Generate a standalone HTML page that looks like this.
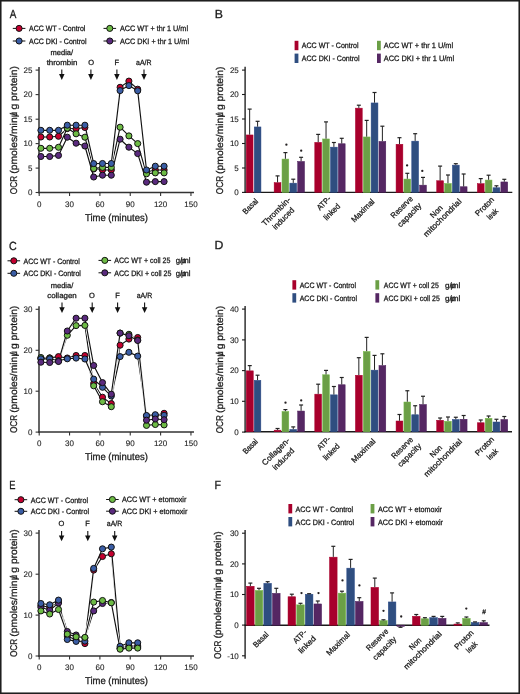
<!DOCTYPE html>
<html><head><meta charset="utf-8"><style>
html,body{margin:0;padding:0;background:#fff;width:520px;height:694px;overflow:hidden}
svg{display:block;will-change:transform;text-rendering:geometricPrecision}
text{stroke:#1a1a1a;stroke-width:0.28px}
text.nl{stroke-width:0.3px}
text.tk{stroke-width:0.1px}
</style></head><body>
<svg width="520" height="694" viewBox="0 0 520 694" font-family='"Liberation Sans", sans-serif' fill="#1a1a1a">
<rect x="0" y="0" width="520" height="694" fill="#fff"/>
<text id="ltA" class="nl" x="0" y="0" font-size="11.80" transform="translate(9.70,17.60) scale(0.838,1)">A</text>
<line x1="12.80" y1="28.40" x2="25.40" y2="28.40" stroke="#111" stroke-width="1.0"/>
<circle cx="19.10" cy="28.40" r="3.05" fill="#c4002f" stroke="#111" stroke-width="1.0"/>
<text x="29.00" y="31.20" font-size="7.8" textLength="56.40" lengthAdjust="spacingAndGlyphs">ACC WT - Control</text>
<line x1="12.80" y1="41.00" x2="25.40" y2="41.00" stroke="#111" stroke-width="1.0"/>
<circle cx="19.10" cy="41.00" r="3.05" fill="#3a5da5" stroke="#111" stroke-width="1.0"/>
<text x="29.00" y="43.80" font-size="7.8" textLength="57.50" lengthAdjust="spacingAndGlyphs">ACC DKI - Control</text>
<line x1="103.50" y1="28.40" x2="116.10" y2="28.40" stroke="#111" stroke-width="1.0"/>
<circle cx="109.80" cy="28.40" r="3.05" fill="#6dbb45" stroke="#111" stroke-width="1.0"/>
<text x="120.00" y="31.20" font-size="7.8" textLength="68.00" lengthAdjust="spacingAndGlyphs">ACC WT + thr 1 U/ml</text>
<line x1="103.50" y1="41.00" x2="116.10" y2="41.00" stroke="#111" stroke-width="1.0"/>
<circle cx="109.80" cy="41.00" r="3.05" fill="#5a2a7e" stroke="#111" stroke-width="1.0"/>
<text x="120.00" y="43.80" font-size="7.8" textLength="69.00" lengthAdjust="spacingAndGlyphs">ACC DKI + thr 1 U/ml</text>
<text x="61.80" y="55.00" font-size="7.5" text-anchor="middle" textLength="22.60" lengthAdjust="spacingAndGlyphs">media/</text>
<text x="62.00" y="64.50" font-size="7.5" text-anchor="middle" textLength="30.70" lengthAdjust="spacingAndGlyphs">thrombin</text>
<text x="91.20" y="64.50" font-size="7.5" text-anchor="middle">O</text>
<text x="116.80" y="64.50" font-size="7.5" text-anchor="middle">F</text>
<text x="143.80" y="64.50" font-size="7.5" text-anchor="middle" textLength="15.50" lengthAdjust="spacingAndGlyphs">aA/R</text>
<line x1="61.80" y1="69.60" x2="61.80" y2="77.00" stroke="#111" stroke-width="1.1"/>
<path d="M59.05,74.10 L64.55,74.10 L61.80,80.00 Z" fill="#111"/>
<line x1="90.90" y1="69.60" x2="90.90" y2="77.00" stroke="#111" stroke-width="1.1"/>
<path d="M88.15,74.10 L93.65,74.10 L90.90,80.00 Z" fill="#111"/>
<line x1="116.90" y1="69.60" x2="116.90" y2="77.00" stroke="#111" stroke-width="1.1"/>
<path d="M114.15,74.10 L119.65,74.10 L116.90,80.00 Z" fill="#111"/>
<line x1="144.00" y1="69.60" x2="144.00" y2="77.00" stroke="#111" stroke-width="1.1"/>
<path d="M141.25,74.10 L146.75,74.10 L144.00,80.00 Z" fill="#111"/>
<line x1="39.00" y1="67.00" x2="39.00" y2="193.20" stroke="#333333" stroke-width="1.5"/>
<line x1="38.30" y1="192.50" x2="194.00" y2="192.50" stroke="#333333" stroke-width="1.5"/>
<line x1="35.60" y1="70.10" x2="39.00" y2="70.10" stroke="#333333" stroke-width="1.1"/>
<text x="32.40" y="72.95" font-size="8" text-anchor="end" class="tk">25</text>
<line x1="35.60" y1="94.60" x2="39.00" y2="94.60" stroke="#333333" stroke-width="1.1"/>
<text x="32.40" y="97.45" font-size="8" text-anchor="end" class="tk">20</text>
<line x1="35.60" y1="119.20" x2="39.00" y2="119.20" stroke="#333333" stroke-width="1.1"/>
<text x="32.40" y="122.05" font-size="8" text-anchor="end" class="tk">15</text>
<line x1="35.60" y1="143.60" x2="39.00" y2="143.60" stroke="#333333" stroke-width="1.1"/>
<text x="32.40" y="146.45" font-size="8" text-anchor="end" class="tk">10</text>
<line x1="35.60" y1="168.10" x2="39.00" y2="168.10" stroke="#333333" stroke-width="1.1"/>
<text x="32.40" y="170.95" font-size="8" text-anchor="end" class="tk">5</text>
<line x1="35.60" y1="192.50" x2="39.00" y2="192.50" stroke="#333333" stroke-width="1.1"/>
<text x="32.40" y="195.35" font-size="8" text-anchor="end" class="tk">0</text>
<line x1="39.20" y1="192.50" x2="39.20" y2="196.00" stroke="#333333" stroke-width="1.1"/>
<text x="39.20" y="206.60" font-size="8.0" text-anchor="middle" class="tk">0</text>
<line x1="69.55" y1="192.50" x2="69.55" y2="196.00" stroke="#333333" stroke-width="1.1"/>
<text x="69.55" y="206.60" font-size="8.0" text-anchor="middle" class="tk">30</text>
<line x1="99.90" y1="192.50" x2="99.90" y2="196.00" stroke="#333333" stroke-width="1.1"/>
<text x="99.90" y="206.60" font-size="8.0" text-anchor="middle" class="tk">60</text>
<line x1="130.25" y1="192.50" x2="130.25" y2="196.00" stroke="#333333" stroke-width="1.1"/>
<text x="130.25" y="206.60" font-size="8.0" text-anchor="middle" class="tk">90</text>
<line x1="160.60" y1="192.50" x2="160.60" y2="196.00" stroke="#333333" stroke-width="1.1"/>
<text x="160.60" y="206.60" font-size="8.0" text-anchor="middle" class="tk">120</text>
<line x1="190.95" y1="192.50" x2="190.95" y2="196.00" stroke="#333333" stroke-width="1.1"/>
<text x="190.95" y="206.60" font-size="8.0" text-anchor="middle" class="tk">150</text>
<text x="116.40" y="220.70" font-size="10" text-anchor="middle" textLength="62.80" lengthAdjust="spacingAndGlyphs">Time (minutes)</text>
<g transform="translate(16.90,193.80) rotate(-90)">
<text x="-0.40" y="0" font-size="9.8" textLength="18.40" lengthAdjust="spacingAndGlyphs">OCR</text>
<text x="20.00" y="0" font-size="9.8" textLength="56.50" lengthAdjust="spacingAndGlyphs">(pmoles/min</text>
<text x="76.60" y="0" font-size="9.8" textLength="5.60" lengthAdjust="spacingAndGlyphs">&#956;</text>
<text x="84.20" y="0" font-size="9.8" textLength="43.60" lengthAdjust="spacingAndGlyphs">g protein)</text>
<text x="78.04" y="0" font-size="9.8">/</text>
</g>
<polyline points="40.90,137.00 49.70,137.00 58.50,136.30 67.30,128.60 76.10,128.70 84.90,127.50 93.70,169.00 102.50,170.00 111.30,170.00 120.10,87.30 128.90,81.10 137.70,89.20 146.50,172.00 155.30,170.00 164.10,170.00" fill="none" stroke="#fff" stroke-width="2.6" stroke-linejoin="round"/>
<polyline points="40.90,137.00 49.70,137.00 58.50,136.30 67.30,128.60 76.10,128.70 84.90,127.50 93.70,169.00 102.50,170.00 111.30,170.00 120.10,87.30 128.90,81.10 137.70,89.20 146.50,172.00 155.30,170.00 164.10,170.00" fill="none" stroke="#111" stroke-width="1.15" stroke-linejoin="round"/>
<polyline points="40.90,148.30 49.70,148.30 58.50,147.30 67.30,128.20 76.10,133.80 84.90,137.20 93.70,168.60 102.50,167.40 111.30,167.40 120.10,127.20 128.90,135.90 137.70,143.60 146.50,173.80 155.30,172.90 164.10,172.90" fill="none" stroke="#fff" stroke-width="2.6" stroke-linejoin="round"/>
<polyline points="40.90,148.30 49.70,148.30 58.50,147.30 67.30,128.20 76.10,133.80 84.90,137.20 93.70,168.60 102.50,167.40 111.30,167.40 120.10,127.20 128.90,135.90 137.70,143.60 146.50,173.80 155.30,172.90 164.10,172.90" fill="none" stroke="#111" stroke-width="1.15" stroke-linejoin="round"/>
<polyline points="40.90,156.50 49.70,156.50 58.50,155.40 67.30,137.20 76.10,143.20 84.90,146.00 93.70,177.00 102.50,175.20 111.30,175.20 120.10,139.20 128.90,147.20 137.70,153.60 146.50,182.20 155.30,181.60 164.10,181.60" fill="none" stroke="#fff" stroke-width="2.6" stroke-linejoin="round"/>
<polyline points="40.90,156.50 49.70,156.50 58.50,155.40 67.30,137.20 76.10,143.20 84.90,146.00 93.70,177.00 102.50,175.20 111.30,175.20 120.10,139.20 128.90,147.20 137.70,153.60 146.50,182.20 155.30,181.60 164.10,181.60" fill="none" stroke="#111" stroke-width="1.15" stroke-linejoin="round"/>
<polyline points="40.90,130.30 49.70,130.30 58.50,130.30 67.30,125.20 76.10,125.20 84.90,125.20 93.70,163.60 102.50,163.50 111.30,163.50 120.10,90.60 128.90,85.60 137.70,90.80 146.50,170.00 155.30,166.20 164.10,166.20" fill="none" stroke="#fff" stroke-width="2.6" stroke-linejoin="round"/>
<polyline points="40.90,130.30 49.70,130.30 58.50,130.30 67.30,125.20 76.10,125.20 84.90,125.20 93.70,163.60 102.50,163.50 111.30,163.50 120.10,90.60 128.90,85.60 137.70,90.80 146.50,170.00 155.30,166.20 164.10,166.20" fill="none" stroke="#111" stroke-width="1.15" stroke-linejoin="round"/>
<circle cx="40.90" cy="137.00" r="3.05" fill="#c4002f" stroke="#111" stroke-width="1.0"/>
<circle cx="49.70" cy="137.00" r="3.05" fill="#c4002f" stroke="#111" stroke-width="1.0"/>
<circle cx="58.50" cy="136.30" r="3.05" fill="#c4002f" stroke="#111" stroke-width="1.0"/>
<circle cx="67.30" cy="128.60" r="3.05" fill="#c4002f" stroke="#111" stroke-width="1.0"/>
<circle cx="76.10" cy="128.70" r="3.05" fill="#c4002f" stroke="#111" stroke-width="1.0"/>
<circle cx="84.90" cy="127.50" r="3.05" fill="#c4002f" stroke="#111" stroke-width="1.0"/>
<circle cx="93.70" cy="169.00" r="3.05" fill="#c4002f" stroke="#111" stroke-width="1.0"/>
<circle cx="102.50" cy="170.00" r="3.05" fill="#c4002f" stroke="#111" stroke-width="1.0"/>
<circle cx="111.30" cy="170.00" r="3.05" fill="#c4002f" stroke="#111" stroke-width="1.0"/>
<circle cx="120.10" cy="87.30" r="3.05" fill="#c4002f" stroke="#111" stroke-width="1.0"/>
<circle cx="128.90" cy="81.10" r="3.05" fill="#c4002f" stroke="#111" stroke-width="1.0"/>
<circle cx="137.70" cy="89.20" r="3.05" fill="#c4002f" stroke="#111" stroke-width="1.0"/>
<circle cx="146.50" cy="172.00" r="3.05" fill="#c4002f" stroke="#111" stroke-width="1.0"/>
<circle cx="155.30" cy="170.00" r="3.05" fill="#c4002f" stroke="#111" stroke-width="1.0"/>
<circle cx="164.10" cy="170.00" r="3.05" fill="#c4002f" stroke="#111" stroke-width="1.0"/>
<circle cx="40.90" cy="148.30" r="3.05" fill="#6dbb45" stroke="#111" stroke-width="1.0"/>
<circle cx="49.70" cy="148.30" r="3.05" fill="#6dbb45" stroke="#111" stroke-width="1.0"/>
<circle cx="58.50" cy="147.30" r="3.05" fill="#6dbb45" stroke="#111" stroke-width="1.0"/>
<circle cx="67.30" cy="128.20" r="3.05" fill="#6dbb45" stroke="#111" stroke-width="1.0"/>
<circle cx="76.10" cy="133.80" r="3.05" fill="#6dbb45" stroke="#111" stroke-width="1.0"/>
<circle cx="84.90" cy="137.20" r="3.05" fill="#6dbb45" stroke="#111" stroke-width="1.0"/>
<circle cx="93.70" cy="168.60" r="3.05" fill="#6dbb45" stroke="#111" stroke-width="1.0"/>
<circle cx="102.50" cy="167.40" r="3.05" fill="#6dbb45" stroke="#111" stroke-width="1.0"/>
<circle cx="111.30" cy="167.40" r="3.05" fill="#6dbb45" stroke="#111" stroke-width="1.0"/>
<circle cx="120.10" cy="127.20" r="3.05" fill="#6dbb45" stroke="#111" stroke-width="1.0"/>
<circle cx="128.90" cy="135.90" r="3.05" fill="#6dbb45" stroke="#111" stroke-width="1.0"/>
<circle cx="137.70" cy="143.60" r="3.05" fill="#6dbb45" stroke="#111" stroke-width="1.0"/>
<circle cx="146.50" cy="173.80" r="3.05" fill="#6dbb45" stroke="#111" stroke-width="1.0"/>
<circle cx="155.30" cy="172.90" r="3.05" fill="#6dbb45" stroke="#111" stroke-width="1.0"/>
<circle cx="164.10" cy="172.90" r="3.05" fill="#6dbb45" stroke="#111" stroke-width="1.0"/>
<circle cx="40.90" cy="156.50" r="3.05" fill="#5a2a7e" stroke="#111" stroke-width="1.0"/>
<circle cx="49.70" cy="156.50" r="3.05" fill="#5a2a7e" stroke="#111" stroke-width="1.0"/>
<circle cx="58.50" cy="155.40" r="3.05" fill="#5a2a7e" stroke="#111" stroke-width="1.0"/>
<circle cx="67.30" cy="137.20" r="3.05" fill="#5a2a7e" stroke="#111" stroke-width="1.0"/>
<circle cx="76.10" cy="143.20" r="3.05" fill="#5a2a7e" stroke="#111" stroke-width="1.0"/>
<circle cx="84.90" cy="146.00" r="3.05" fill="#5a2a7e" stroke="#111" stroke-width="1.0"/>
<circle cx="93.70" cy="177.00" r="3.05" fill="#5a2a7e" stroke="#111" stroke-width="1.0"/>
<circle cx="102.50" cy="175.20" r="3.05" fill="#5a2a7e" stroke="#111" stroke-width="1.0"/>
<circle cx="111.30" cy="175.20" r="3.05" fill="#5a2a7e" stroke="#111" stroke-width="1.0"/>
<circle cx="120.10" cy="139.20" r="3.05" fill="#5a2a7e" stroke="#111" stroke-width="1.0"/>
<circle cx="128.90" cy="147.20" r="3.05" fill="#5a2a7e" stroke="#111" stroke-width="1.0"/>
<circle cx="137.70" cy="153.60" r="3.05" fill="#5a2a7e" stroke="#111" stroke-width="1.0"/>
<circle cx="146.50" cy="182.20" r="3.05" fill="#5a2a7e" stroke="#111" stroke-width="1.0"/>
<circle cx="155.30" cy="181.60" r="3.05" fill="#5a2a7e" stroke="#111" stroke-width="1.0"/>
<circle cx="164.10" cy="181.60" r="3.05" fill="#5a2a7e" stroke="#111" stroke-width="1.0"/>
<circle cx="40.90" cy="130.30" r="3.05" fill="#3a5da5" stroke="#111" stroke-width="1.0"/>
<circle cx="49.70" cy="130.30" r="3.05" fill="#3a5da5" stroke="#111" stroke-width="1.0"/>
<circle cx="58.50" cy="130.30" r="3.05" fill="#3a5da5" stroke="#111" stroke-width="1.0"/>
<circle cx="67.30" cy="125.20" r="3.05" fill="#3a5da5" stroke="#111" stroke-width="1.0"/>
<circle cx="76.10" cy="125.20" r="3.05" fill="#3a5da5" stroke="#111" stroke-width="1.0"/>
<circle cx="84.90" cy="125.20" r="3.05" fill="#3a5da5" stroke="#111" stroke-width="1.0"/>
<circle cx="93.70" cy="163.60" r="3.05" fill="#3a5da5" stroke="#111" stroke-width="1.0"/>
<circle cx="102.50" cy="163.50" r="3.05" fill="#3a5da5" stroke="#111" stroke-width="1.0"/>
<circle cx="111.30" cy="163.50" r="3.05" fill="#3a5da5" stroke="#111" stroke-width="1.0"/>
<circle cx="120.10" cy="90.60" r="3.05" fill="#3a5da5" stroke="#111" stroke-width="1.0"/>
<circle cx="128.90" cy="85.60" r="3.05" fill="#3a5da5" stroke="#111" stroke-width="1.0"/>
<circle cx="137.70" cy="90.80" r="3.05" fill="#3a5da5" stroke="#111" stroke-width="1.0"/>
<circle cx="146.50" cy="170.00" r="3.05" fill="#3a5da5" stroke="#111" stroke-width="1.0"/>
<circle cx="155.30" cy="166.20" r="3.05" fill="#3a5da5" stroke="#111" stroke-width="1.0"/>
<circle cx="164.10" cy="166.20" r="3.05" fill="#3a5da5" stroke="#111" stroke-width="1.0"/>
<text id="ltB" class="nl" x="0" y="0" font-size="11.80" transform="translate(214.80,17.70) scale(1.038,1)">B</text>
<rect x="294.60" y="40.80" width="3.80" height="9.40" fill="#a8002c"/>
<text x="301.80" y="48.40" font-size="7.8" textLength="56.80" lengthAdjust="spacingAndGlyphs">ACC WT - Control</text>
<rect x="294.60" y="53.60" width="3.80" height="9.40" fill="#2f4e80"/>
<text x="301.80" y="61.20" font-size="7.8" textLength="57.80" lengthAdjust="spacingAndGlyphs">ACC DKI - Control</text>
<rect x="377.00" y="40.80" width="3.80" height="9.40" fill="#6b9f46"/>
<text x="383.80" y="48.40" font-size="7.8" textLength="69.30" lengthAdjust="spacingAndGlyphs">ACC WT + thr 1 U/ml</text>
<rect x="377.00" y="53.60" width="3.80" height="9.40" fill="#552763"/>
<text x="383.80" y="61.20" font-size="7.8" textLength="70.30" lengthAdjust="spacingAndGlyphs">ACC DKI + thr 1 U/ml</text>
<line x1="245.10" y1="66.80" x2="245.10" y2="192.90" stroke="#1a1a1a" stroke-width="1.35"/>
<line x1="244.50" y1="192.30" x2="512.30" y2="192.30" stroke="#1a1a1a" stroke-width="1.35"/>
<line x1="242.00" y1="70.10" x2="245.10" y2="70.10" stroke="#1a1a1a" stroke-width="1.1"/>
<text x="238.80" y="72.95" font-size="8" text-anchor="end" class="tk">25</text>
<line x1="242.00" y1="94.50" x2="245.10" y2="94.50" stroke="#1a1a1a" stroke-width="1.1"/>
<text x="238.80" y="97.35" font-size="8" text-anchor="end" class="tk">20</text>
<line x1="242.00" y1="119.00" x2="245.10" y2="119.00" stroke="#1a1a1a" stroke-width="1.1"/>
<text x="238.80" y="121.85" font-size="8" text-anchor="end" class="tk">15</text>
<line x1="242.00" y1="143.50" x2="245.10" y2="143.50" stroke="#1a1a1a" stroke-width="1.1"/>
<text x="238.80" y="146.35" font-size="8" text-anchor="end" class="tk">10</text>
<line x1="242.00" y1="168.00" x2="245.10" y2="168.00" stroke="#1a1a1a" stroke-width="1.1"/>
<text x="238.80" y="170.85" font-size="8" text-anchor="end" class="tk">5</text>
<line x1="242.00" y1="192.40" x2="245.10" y2="192.40" stroke="#1a1a1a" stroke-width="1.1"/>
<text x="238.80" y="195.25" font-size="8" text-anchor="end" class="tk">0</text>
<g transform="translate(223.00,193.80) rotate(-90)">
<text x="-0.40" y="0" font-size="9.8" textLength="18.31" lengthAdjust="spacingAndGlyphs">OCR</text>
<text x="19.91" y="0" font-size="9.8" textLength="56.23" lengthAdjust="spacingAndGlyphs">(pmoles/min</text>
<text x="76.24" y="0" font-size="9.8" textLength="5.57" lengthAdjust="spacingAndGlyphs">&#956;</text>
<text x="83.80" y="0" font-size="9.8" textLength="43.40" lengthAdjust="spacingAndGlyphs">g protein)</text>
<text x="77.67" y="0" font-size="9.8">/</text>
</g>
<rect x="246.25" y="134.95" width="6.80" height="57.35" fill="#a8002c" stroke="#a8002c" stroke-width="0.5"/>
<line x1="249.65" y1="134.70" x2="249.65" y2="109.10" stroke="#222" stroke-width="1.0"/>
<line x1="247.65" y1="109.10" x2="251.65" y2="109.10" stroke="#222" stroke-width="1.2"/>
<rect x="254.25" y="126.95" width="6.70" height="65.35" fill="#2f4e80" stroke="#284887" stroke-width="0.5"/>
<line x1="257.60" y1="126.70" x2="257.60" y2="121.30" stroke="#222" stroke-width="1.0"/>
<line x1="255.60" y1="121.30" x2="259.60" y2="121.30" stroke="#222" stroke-width="1.2"/>
<rect x="274.15" y="182.65" width="6.80" height="9.65" fill="#a8002c" stroke="#a8002c" stroke-width="0.5"/>
<line x1="277.55" y1="182.40" x2="277.55" y2="175.90" stroke="#222" stroke-width="1.0"/>
<line x1="275.55" y1="175.90" x2="279.55" y2="175.90" stroke="#222" stroke-width="1.2"/>
<rect x="282.00" y="159.05" width="6.80" height="33.25" fill="#6b9f46" stroke="#79bd4c" stroke-width="0.5"/>
<line x1="285.40" y1="158.80" x2="285.40" y2="152.60" stroke="#222" stroke-width="1.0"/>
<line x1="283.40" y1="152.60" x2="287.40" y2="152.60" stroke="#222" stroke-width="1.2"/>
<rect x="289.85" y="183.15" width="6.80" height="9.15" fill="#2f4e80" stroke="#284887" stroke-width="0.5"/>
<line x1="293.25" y1="182.90" x2="293.25" y2="179.20" stroke="#222" stroke-width="1.0"/>
<line x1="291.25" y1="179.20" x2="295.25" y2="179.20" stroke="#222" stroke-width="1.2"/>
<rect x="297.70" y="161.45" width="6.80" height="30.85" fill="#552763" stroke="#4b1c5a" stroke-width="0.5"/>
<line x1="301.10" y1="161.20" x2="301.10" y2="157.30" stroke="#222" stroke-width="1.0"/>
<line x1="299.10" y1="157.30" x2="303.10" y2="157.30" stroke="#222" stroke-width="1.2"/>
<rect x="314.79" y="142.35" width="6.80" height="49.95" fill="#a8002c" stroke="#a8002c" stroke-width="0.5"/>
<line x1="318.19" y1="142.10" x2="318.19" y2="134.40" stroke="#222" stroke-width="1.0"/>
<line x1="316.19" y1="134.40" x2="320.19" y2="134.40" stroke="#222" stroke-width="1.2"/>
<rect x="322.64" y="138.95" width="6.80" height="53.35" fill="#6b9f46" stroke="#79bd4c" stroke-width="0.5"/>
<line x1="326.04" y1="138.70" x2="326.04" y2="121.90" stroke="#222" stroke-width="1.0"/>
<line x1="324.04" y1="121.90" x2="328.04" y2="121.90" stroke="#222" stroke-width="1.2"/>
<rect x="330.49" y="147.15" width="6.80" height="45.15" fill="#2f4e80" stroke="#284887" stroke-width="0.5"/>
<line x1="333.89" y1="146.90" x2="333.89" y2="142.50" stroke="#222" stroke-width="1.0"/>
<line x1="331.89" y1="142.50" x2="335.89" y2="142.50" stroke="#222" stroke-width="1.2"/>
<rect x="338.34" y="143.75" width="6.80" height="48.55" fill="#552763" stroke="#4b1c5a" stroke-width="0.5"/>
<line x1="341.74" y1="143.50" x2="341.74" y2="138.30" stroke="#222" stroke-width="1.0"/>
<line x1="339.74" y1="138.30" x2="343.74" y2="138.30" stroke="#222" stroke-width="1.2"/>
<rect x="355.43" y="108.15" width="6.80" height="84.15" fill="#a8002c" stroke="#a8002c" stroke-width="0.5"/>
<line x1="358.83" y1="107.90" x2="358.83" y2="105.20" stroke="#222" stroke-width="1.0"/>
<line x1="356.83" y1="105.20" x2="360.83" y2="105.20" stroke="#222" stroke-width="1.2"/>
<rect x="363.28" y="136.95" width="6.80" height="55.35" fill="#6b9f46" stroke="#79bd4c" stroke-width="0.5"/>
<line x1="366.68" y1="136.70" x2="366.68" y2="120.40" stroke="#222" stroke-width="1.0"/>
<line x1="364.68" y1="120.40" x2="368.68" y2="120.40" stroke="#222" stroke-width="1.2"/>
<rect x="371.13" y="102.95" width="6.80" height="89.35" fill="#2f4e80" stroke="#284887" stroke-width="0.5"/>
<line x1="374.53" y1="102.70" x2="374.53" y2="92.50" stroke="#222" stroke-width="1.0"/>
<line x1="372.53" y1="92.50" x2="376.53" y2="92.50" stroke="#222" stroke-width="1.2"/>
<rect x="378.98" y="141.45" width="6.80" height="50.85" fill="#552763" stroke="#4b1c5a" stroke-width="0.5"/>
<line x1="382.38" y1="141.20" x2="382.38" y2="126.20" stroke="#222" stroke-width="1.0"/>
<line x1="380.38" y1="126.20" x2="384.38" y2="126.20" stroke="#222" stroke-width="1.2"/>
<rect x="396.07" y="144.25" width="6.80" height="48.05" fill="#a8002c" stroke="#a8002c" stroke-width="0.5"/>
<line x1="399.47" y1="144.00" x2="399.47" y2="137.70" stroke="#222" stroke-width="1.0"/>
<line x1="397.47" y1="137.70" x2="401.47" y2="137.70" stroke="#222" stroke-width="1.2"/>
<rect x="403.92" y="179.05" width="6.80" height="13.25" fill="#6b9f46" stroke="#79bd4c" stroke-width="0.5"/>
<line x1="407.32" y1="178.80" x2="407.32" y2="173.30" stroke="#222" stroke-width="1.0"/>
<line x1="405.32" y1="173.30" x2="409.32" y2="173.30" stroke="#222" stroke-width="1.2"/>
<rect x="411.77" y="141.15" width="6.80" height="51.15" fill="#2f4e80" stroke="#284887" stroke-width="0.5"/>
<line x1="415.17" y1="140.90" x2="415.17" y2="133.70" stroke="#222" stroke-width="1.0"/>
<line x1="413.17" y1="133.70" x2="417.17" y2="133.70" stroke="#222" stroke-width="1.2"/>
<rect x="419.62" y="185.15" width="6.80" height="7.15" fill="#552763" stroke="#4b1c5a" stroke-width="0.5"/>
<line x1="423.02" y1="184.90" x2="423.02" y2="177.40" stroke="#222" stroke-width="1.0"/>
<line x1="421.02" y1="177.40" x2="425.02" y2="177.40" stroke="#222" stroke-width="1.2"/>
<rect x="436.71" y="180.75" width="6.80" height="11.55" fill="#a8002c" stroke="#a8002c" stroke-width="0.5"/>
<line x1="440.11" y1="180.50" x2="440.11" y2="166.10" stroke="#222" stroke-width="1.0"/>
<line x1="438.11" y1="166.10" x2="442.11" y2="166.10" stroke="#222" stroke-width="1.2"/>
<rect x="444.56" y="183.45" width="6.80" height="8.85" fill="#6b9f46" stroke="#79bd4c" stroke-width="0.5"/>
<line x1="447.96" y1="183.20" x2="447.96" y2="175.00" stroke="#222" stroke-width="1.0"/>
<line x1="445.96" y1="175.00" x2="449.96" y2="175.00" stroke="#222" stroke-width="1.2"/>
<rect x="452.41" y="165.15" width="6.80" height="27.15" fill="#2f4e80" stroke="#284887" stroke-width="0.5"/>
<line x1="455.81" y1="164.90" x2="455.81" y2="163.70" stroke="#222" stroke-width="1.0"/>
<line x1="453.81" y1="163.70" x2="457.81" y2="163.70" stroke="#222" stroke-width="1.2"/>
<rect x="460.26" y="186.75" width="6.80" height="5.55" fill="#552763" stroke="#4b1c5a" stroke-width="0.5"/>
<line x1="463.66" y1="186.50" x2="463.66" y2="174.00" stroke="#222" stroke-width="1.0"/>
<line x1="461.66" y1="174.00" x2="465.66" y2="174.00" stroke="#222" stroke-width="1.2"/>
<rect x="477.35" y="183.65" width="6.80" height="8.65" fill="#a8002c" stroke="#a8002c" stroke-width="0.5"/>
<line x1="480.75" y1="183.40" x2="480.75" y2="178.60" stroke="#222" stroke-width="1.0"/>
<line x1="478.75" y1="178.60" x2="482.75" y2="178.60" stroke="#222" stroke-width="1.2"/>
<rect x="485.20" y="180.05" width="6.80" height="12.25" fill="#6b9f46" stroke="#79bd4c" stroke-width="0.5"/>
<line x1="488.60" y1="179.80" x2="488.60" y2="175.20" stroke="#222" stroke-width="1.0"/>
<line x1="486.60" y1="175.20" x2="490.60" y2="175.20" stroke="#222" stroke-width="1.2"/>
<rect x="493.05" y="187.75" width="6.80" height="4.55" fill="#2f4e80" stroke="#284887" stroke-width="0.5"/>
<line x1="496.45" y1="187.50" x2="496.45" y2="185.80" stroke="#222" stroke-width="1.0"/>
<line x1="494.45" y1="185.80" x2="498.45" y2="185.80" stroke="#222" stroke-width="1.2"/>
<rect x="500.90" y="181.95" width="6.80" height="10.35" fill="#552763" stroke="#4b1c5a" stroke-width="0.5"/>
<line x1="504.30" y1="181.70" x2="504.30" y2="179.30" stroke="#222" stroke-width="1.0"/>
<line x1="502.30" y1="179.30" x2="506.30" y2="179.30" stroke="#222" stroke-width="1.2"/>
<circle cx="286.40" cy="144.70" r="1.15" fill="#231f20"/>
<circle cx="301.20" cy="150.70" r="1.15" fill="#231f20"/>
<circle cx="407.10" cy="165.40" r="1.15" fill="#231f20"/>
<circle cx="422.30" cy="170.90" r="1.15" fill="#231f20"/>
<text id="clB0" x="0" y="0" font-size="8" text-anchor="middle" textLength="18.20" lengthAdjust="spacingAndGlyphs" transform="translate(252.20,208.20) rotate(-45)">Basal</text>
<text id="clB1" x="0" y="0" font-size="8" text-anchor="middle" textLength="37.13" lengthAdjust="spacingAndGlyphs" transform="translate(278.10,213.40) rotate(-45)">Thrombin-</text>
<text id="clB2" x="0" y="0" font-size="8" text-anchor="middle" textLength="27.17" lengthAdjust="spacingAndGlyphs" transform="translate(285.30,220.30) rotate(-45)">induced</text>
<text id="clB3" x="0" y="0" font-size="8" text-anchor="middle" textLength="16.16" lengthAdjust="spacingAndGlyphs" transform="translate(325.70,205.00) rotate(-45)">ATP-</text>
<text id="clB4" x="0" y="0" font-size="8" text-anchor="middle" textLength="20.00" lengthAdjust="spacingAndGlyphs" transform="translate(333.80,213.70) rotate(-45)">linked</text>
<text id="clB5" x="0" y="0" font-size="8" text-anchor="middle" textLength="29.16" lengthAdjust="spacingAndGlyphs" transform="translate(364.70,212.50) rotate(-45)">Maximal</text>
<text id="clB6" x="0" y="0" font-size="8" text-anchor="middle" textLength="27.58" lengthAdjust="spacingAndGlyphs" transform="translate(403.60,209.10) rotate(-45)">Reserve</text>
<text id="clB7" x="0" y="0" font-size="8" text-anchor="middle" textLength="30.42" lengthAdjust="spacingAndGlyphs" transform="translate(411.20,216.90) rotate(-45)">capacity</text>
<text id="clB8" x="0" y="0" font-size="8" text-anchor="middle" textLength="14.11" lengthAdjust="spacingAndGlyphs" transform="translate(438.30,213.50) rotate(-45)">Non</text>
<text id="clB9" x="0" y="0" font-size="8" text-anchor="middle" textLength="50.07" lengthAdjust="spacingAndGlyphs" transform="translate(444.30,219.70) rotate(-45)">mitochondrial</text>
<text id="clB10" x="0" y="0" font-size="8" text-anchor="middle" textLength="23.12" lengthAdjust="spacingAndGlyphs" transform="translate(486.50,208.40) rotate(-45)">Proton</text>
<text id="clB11" x="0" y="0" font-size="8" text-anchor="middle" textLength="12.41" lengthAdjust="spacingAndGlyphs" transform="translate(494.30,215.90) rotate(-45)">leak</text>
<text id="ltC" class="nl" x="0" y="0" font-size="11.80" transform="translate(8.90,250.30) scale(0.909,1)">C</text>
<line x1="7.50" y1="260.80" x2="20.10" y2="260.80" stroke="#111" stroke-width="1.0"/>
<circle cx="13.80" cy="260.80" r="3.05" fill="#c4002f" stroke="#111" stroke-width="1.0"/>
<text x="23.50" y="263.60" font-size="7.8" textLength="56.30" lengthAdjust="spacingAndGlyphs">ACC WT - Control</text>
<line x1="7.50" y1="273.30" x2="20.10" y2="273.30" stroke="#111" stroke-width="1.0"/>
<circle cx="13.80" cy="273.30" r="3.05" fill="#3a5da5" stroke="#111" stroke-width="1.0"/>
<text x="23.50" y="276.10" font-size="7.8" textLength="57.40" lengthAdjust="spacingAndGlyphs">ACC DKI - Control</text>
<line x1="98.50" y1="260.40" x2="111.10" y2="260.40" stroke="#111" stroke-width="1.0"/>
<circle cx="104.80" cy="260.40" r="3.05" fill="#6dbb45" stroke="#111" stroke-width="1.0"/>
<text x="114.30" y="263.20" font-size="7.8" textLength="56.10" lengthAdjust="spacingAndGlyphs">ACC WT + coll 25</text>
<line x1="98.50" y1="272.80" x2="111.10" y2="272.80" stroke="#111" stroke-width="1.0"/>
<circle cx="104.80" cy="272.80" r="3.05" fill="#5a2a7e" stroke="#111" stroke-width="1.0"/>
<text x="114.30" y="275.60" font-size="7.8" textLength="57.10" lengthAdjust="spacingAndGlyphs">ACC DKI + coll 25</text>
<text x="175.70" y="263.20" font-size="7.8" textLength="14.80" lengthAdjust="spacingAndGlyphs">g/ml</text>
<text x="181.00" y="263.20" font-size="7.8">&#956;</text>
<text x="175.70" y="275.60" font-size="7.8" textLength="14.80" lengthAdjust="spacingAndGlyphs">g/ml</text>
<text x="181.00" y="275.60" font-size="7.8">&#956;</text>
<text x="62.00" y="288.00" font-size="7.5" text-anchor="middle" textLength="22.60" lengthAdjust="spacingAndGlyphs">media/</text>
<text x="62.00" y="297.50" font-size="7.5" text-anchor="middle" textLength="29.50" lengthAdjust="spacingAndGlyphs">collagen</text>
<text x="92.00" y="297.50" font-size="7.5" text-anchor="middle">O</text>
<text x="117.50" y="297.50" font-size="7.5" text-anchor="middle">F</text>
<text x="144.50" y="297.50" font-size="7.5" text-anchor="middle" textLength="15.50" lengthAdjust="spacingAndGlyphs">aA/R</text>
<line x1="62.00" y1="302.50" x2="62.00" y2="310.10" stroke="#111" stroke-width="1.1"/>
<path d="M59.25,307.20 L64.75,307.20 L62.00,313.10 Z" fill="#111"/>
<line x1="92.20" y1="302.50" x2="92.20" y2="310.10" stroke="#111" stroke-width="1.1"/>
<path d="M89.45,307.20 L94.95,307.20 L92.20,313.10 Z" fill="#111"/>
<line x1="117.60" y1="302.50" x2="117.60" y2="310.10" stroke="#111" stroke-width="1.1"/>
<path d="M114.85,307.20 L120.35,307.20 L117.60,313.10 Z" fill="#111"/>
<line x1="144.60" y1="302.50" x2="144.60" y2="310.10" stroke="#111" stroke-width="1.1"/>
<path d="M141.85,307.20 L147.35,307.20 L144.60,313.10 Z" fill="#111"/>
<line x1="39.00" y1="306.30" x2="39.00" y2="432.80" stroke="#333333" stroke-width="1.5"/>
<line x1="38.30" y1="432.10" x2="194.00" y2="432.10" stroke="#333333" stroke-width="1.5"/>
<line x1="35.60" y1="309.30" x2="39.00" y2="309.30" stroke="#333333" stroke-width="1.1"/>
<text x="32.40" y="312.15" font-size="8" text-anchor="end" class="tk">30</text>
<line x1="35.60" y1="350.30" x2="39.00" y2="350.30" stroke="#333333" stroke-width="1.1"/>
<text x="32.40" y="353.15" font-size="8" text-anchor="end" class="tk">20</text>
<line x1="35.60" y1="391.20" x2="39.00" y2="391.20" stroke="#333333" stroke-width="1.1"/>
<text x="32.40" y="394.05" font-size="8" text-anchor="end" class="tk">10</text>
<line x1="35.60" y1="432.10" x2="39.00" y2="432.10" stroke="#333333" stroke-width="1.1"/>
<text x="32.40" y="434.95" font-size="8" text-anchor="end" class="tk">0</text>
<line x1="39.20" y1="432.10" x2="39.20" y2="435.60" stroke="#333333" stroke-width="1.1"/>
<text x="39.20" y="446.20" font-size="8.0" text-anchor="middle" class="tk">0</text>
<line x1="69.55" y1="432.10" x2="69.55" y2="435.60" stroke="#333333" stroke-width="1.1"/>
<text x="69.55" y="446.20" font-size="8.0" text-anchor="middle" class="tk">30</text>
<line x1="99.90" y1="432.10" x2="99.90" y2="435.60" stroke="#333333" stroke-width="1.1"/>
<text x="99.90" y="446.20" font-size="8.0" text-anchor="middle" class="tk">60</text>
<line x1="130.25" y1="432.10" x2="130.25" y2="435.60" stroke="#333333" stroke-width="1.1"/>
<text x="130.25" y="446.20" font-size="8.0" text-anchor="middle" class="tk">90</text>
<line x1="160.60" y1="432.10" x2="160.60" y2="435.60" stroke="#333333" stroke-width="1.1"/>
<text x="160.60" y="446.20" font-size="8.0" text-anchor="middle" class="tk">120</text>
<line x1="190.95" y1="432.10" x2="190.95" y2="435.60" stroke="#333333" stroke-width="1.1"/>
<text x="190.95" y="446.20" font-size="8.0" text-anchor="middle" class="tk">150</text>
<text x="116.40" y="460.30" font-size="10" text-anchor="middle" textLength="62.80" lengthAdjust="spacingAndGlyphs">Time (minutes)</text>
<g transform="translate(17.00,432.70) rotate(-90)">
<text x="-0.40" y="0" font-size="9.8" textLength="18.28" lengthAdjust="spacingAndGlyphs">OCR</text>
<text x="19.87" y="0" font-size="9.8" textLength="56.15" lengthAdjust="spacingAndGlyphs">(pmoles/min</text>
<text x="76.12" y="0" font-size="9.8" textLength="5.56" lengthAdjust="spacingAndGlyphs">&#956;</text>
<text x="83.67" y="0" font-size="9.8" textLength="43.33" lengthAdjust="spacingAndGlyphs">g protein)</text>
<text x="77.55" y="0" font-size="9.8">/</text>
</g>
<polyline points="40.90,358.50 49.70,357.90 58.50,356.60 67.30,358.00 76.10,355.50 84.90,355.50 93.70,383.50 102.50,397.20 111.30,403.60 120.10,345.20 128.90,339.10 137.70,337.50 146.50,416.00 155.30,415.50 164.10,413.30" fill="none" stroke="#fff" stroke-width="2.6" stroke-linejoin="round"/>
<polyline points="40.90,358.50 49.70,357.90 58.50,356.60 67.30,358.00 76.10,355.50 84.90,355.50 93.70,383.50 102.50,397.20 111.30,403.60 120.10,345.20 128.90,339.10 137.70,337.50 146.50,416.00 155.30,415.50 164.10,413.30" fill="none" stroke="#111" stroke-width="1.15" stroke-linejoin="round"/>
<polyline points="40.90,357.50 49.70,358.00 58.50,361.00 67.30,335.30 76.10,325.60 84.90,325.40 93.70,385.80 102.50,401.70 111.30,406.70 120.10,333.10 128.90,334.30 137.70,340.00 146.50,425.40 155.30,424.50 164.10,424.90" fill="none" stroke="#fff" stroke-width="2.6" stroke-linejoin="round"/>
<polyline points="40.90,357.50 49.70,358.00 58.50,361.00 67.30,335.30 76.10,325.60 84.90,325.40 93.70,385.80 102.50,401.70 111.30,406.70 120.10,333.10 128.90,334.30 137.70,340.00 146.50,425.40 155.30,424.50 164.10,424.90" fill="none" stroke="#111" stroke-width="1.15" stroke-linejoin="round"/>
<polyline points="40.90,358.80 49.70,358.80 58.50,360.80 67.30,358.80 76.10,358.10 84.90,359.00 93.70,379.10 102.50,387.30 111.30,396.00 120.10,356.60 128.90,352.30 137.70,356.10 146.50,415.50 155.30,414.70 164.10,415.30" fill="none" stroke="#fff" stroke-width="2.6" stroke-linejoin="round"/>
<polyline points="40.90,358.80 49.70,358.80 58.50,360.80 67.30,358.80 76.10,358.10 84.90,359.00 93.70,379.10 102.50,387.30 111.30,396.00 120.10,356.60 128.90,352.30 137.70,356.10 146.50,415.50 155.30,414.70 164.10,415.30" fill="none" stroke="#111" stroke-width="1.15" stroke-linejoin="round"/>
<polyline points="40.90,362.20 49.70,362.50 58.50,361.50 67.30,331.00 76.10,318.20 84.90,318.20 93.70,365.50 102.50,382.60 111.30,394.20 120.10,333.10 128.90,335.70 137.70,340.50 146.50,420.20 155.30,419.00 164.10,419.70" fill="none" stroke="#fff" stroke-width="2.6" stroke-linejoin="round"/>
<polyline points="40.90,362.20 49.70,362.50 58.50,361.50 67.30,331.00 76.10,318.20 84.90,318.20 93.70,365.50 102.50,382.60 111.30,394.20 120.10,333.10 128.90,335.70 137.70,340.50 146.50,420.20 155.30,419.00 164.10,419.70" fill="none" stroke="#111" stroke-width="1.15" stroke-linejoin="round"/>
<circle cx="40.90" cy="358.50" r="3.05" fill="#c4002f" stroke="#111" stroke-width="1.0"/>
<circle cx="49.70" cy="357.90" r="3.05" fill="#c4002f" stroke="#111" stroke-width="1.0"/>
<circle cx="58.50" cy="356.60" r="3.05" fill="#c4002f" stroke="#111" stroke-width="1.0"/>
<circle cx="67.30" cy="358.00" r="3.05" fill="#c4002f" stroke="#111" stroke-width="1.0"/>
<circle cx="76.10" cy="355.50" r="3.05" fill="#c4002f" stroke="#111" stroke-width="1.0"/>
<circle cx="84.90" cy="355.50" r="3.05" fill="#c4002f" stroke="#111" stroke-width="1.0"/>
<circle cx="93.70" cy="383.50" r="3.05" fill="#c4002f" stroke="#111" stroke-width="1.0"/>
<circle cx="102.50" cy="397.20" r="3.05" fill="#c4002f" stroke="#111" stroke-width="1.0"/>
<circle cx="111.30" cy="403.60" r="3.05" fill="#c4002f" stroke="#111" stroke-width="1.0"/>
<circle cx="120.10" cy="345.20" r="3.05" fill="#c4002f" stroke="#111" stroke-width="1.0"/>
<circle cx="128.90" cy="339.10" r="3.05" fill="#c4002f" stroke="#111" stroke-width="1.0"/>
<circle cx="137.70" cy="337.50" r="3.05" fill="#c4002f" stroke="#111" stroke-width="1.0"/>
<circle cx="146.50" cy="416.00" r="3.05" fill="#c4002f" stroke="#111" stroke-width="1.0"/>
<circle cx="155.30" cy="415.50" r="3.05" fill="#c4002f" stroke="#111" stroke-width="1.0"/>
<circle cx="164.10" cy="413.30" r="3.05" fill="#c4002f" stroke="#111" stroke-width="1.0"/>
<circle cx="40.90" cy="357.50" r="3.05" fill="#6dbb45" stroke="#111" stroke-width="1.0"/>
<circle cx="49.70" cy="358.00" r="3.05" fill="#6dbb45" stroke="#111" stroke-width="1.0"/>
<circle cx="58.50" cy="361.00" r="3.05" fill="#6dbb45" stroke="#111" stroke-width="1.0"/>
<circle cx="67.30" cy="335.30" r="3.05" fill="#6dbb45" stroke="#111" stroke-width="1.0"/>
<circle cx="76.10" cy="325.60" r="3.05" fill="#6dbb45" stroke="#111" stroke-width="1.0"/>
<circle cx="84.90" cy="325.40" r="3.05" fill="#6dbb45" stroke="#111" stroke-width="1.0"/>
<circle cx="93.70" cy="385.80" r="3.05" fill="#6dbb45" stroke="#111" stroke-width="1.0"/>
<circle cx="102.50" cy="401.70" r="3.05" fill="#6dbb45" stroke="#111" stroke-width="1.0"/>
<circle cx="111.30" cy="406.70" r="3.05" fill="#6dbb45" stroke="#111" stroke-width="1.0"/>
<circle cx="120.10" cy="333.10" r="3.05" fill="#6dbb45" stroke="#111" stroke-width="1.0"/>
<circle cx="128.90" cy="334.30" r="3.05" fill="#6dbb45" stroke="#111" stroke-width="1.0"/>
<circle cx="137.70" cy="340.00" r="3.05" fill="#6dbb45" stroke="#111" stroke-width="1.0"/>
<circle cx="146.50" cy="425.40" r="3.05" fill="#6dbb45" stroke="#111" stroke-width="1.0"/>
<circle cx="155.30" cy="424.50" r="3.05" fill="#6dbb45" stroke="#111" stroke-width="1.0"/>
<circle cx="164.10" cy="424.90" r="3.05" fill="#6dbb45" stroke="#111" stroke-width="1.0"/>
<circle cx="40.90" cy="358.80" r="3.05" fill="#3a5da5" stroke="#111" stroke-width="1.0"/>
<circle cx="49.70" cy="358.80" r="3.05" fill="#3a5da5" stroke="#111" stroke-width="1.0"/>
<circle cx="58.50" cy="360.80" r="3.05" fill="#3a5da5" stroke="#111" stroke-width="1.0"/>
<circle cx="67.30" cy="358.80" r="3.05" fill="#3a5da5" stroke="#111" stroke-width="1.0"/>
<circle cx="76.10" cy="358.10" r="3.05" fill="#3a5da5" stroke="#111" stroke-width="1.0"/>
<circle cx="84.90" cy="359.00" r="3.05" fill="#3a5da5" stroke="#111" stroke-width="1.0"/>
<circle cx="93.70" cy="379.10" r="3.05" fill="#3a5da5" stroke="#111" stroke-width="1.0"/>
<circle cx="102.50" cy="387.30" r="3.05" fill="#3a5da5" stroke="#111" stroke-width="1.0"/>
<circle cx="111.30" cy="396.00" r="3.05" fill="#3a5da5" stroke="#111" stroke-width="1.0"/>
<circle cx="120.10" cy="356.60" r="3.05" fill="#3a5da5" stroke="#111" stroke-width="1.0"/>
<circle cx="128.90" cy="352.30" r="3.05" fill="#3a5da5" stroke="#111" stroke-width="1.0"/>
<circle cx="137.70" cy="356.10" r="3.05" fill="#3a5da5" stroke="#111" stroke-width="1.0"/>
<circle cx="146.50" cy="415.50" r="3.05" fill="#3a5da5" stroke="#111" stroke-width="1.0"/>
<circle cx="155.30" cy="414.70" r="3.05" fill="#3a5da5" stroke="#111" stroke-width="1.0"/>
<circle cx="164.10" cy="415.30" r="3.05" fill="#3a5da5" stroke="#111" stroke-width="1.0"/>
<circle cx="40.90" cy="362.20" r="3.05" fill="#5a2a7e" stroke="#111" stroke-width="1.0"/>
<circle cx="49.70" cy="362.50" r="3.05" fill="#5a2a7e" stroke="#111" stroke-width="1.0"/>
<circle cx="58.50" cy="361.50" r="3.05" fill="#5a2a7e" stroke="#111" stroke-width="1.0"/>
<circle cx="67.30" cy="331.00" r="3.05" fill="#5a2a7e" stroke="#111" stroke-width="1.0"/>
<circle cx="76.10" cy="318.20" r="3.05" fill="#5a2a7e" stroke="#111" stroke-width="1.0"/>
<circle cx="84.90" cy="318.20" r="3.05" fill="#5a2a7e" stroke="#111" stroke-width="1.0"/>
<circle cx="93.70" cy="365.50" r="3.05" fill="#5a2a7e" stroke="#111" stroke-width="1.0"/>
<circle cx="102.50" cy="382.60" r="3.05" fill="#5a2a7e" stroke="#111" stroke-width="1.0"/>
<circle cx="111.30" cy="394.20" r="3.05" fill="#5a2a7e" stroke="#111" stroke-width="1.0"/>
<circle cx="120.10" cy="333.10" r="3.05" fill="#5a2a7e" stroke="#111" stroke-width="1.0"/>
<circle cx="128.90" cy="335.70" r="3.05" fill="#5a2a7e" stroke="#111" stroke-width="1.0"/>
<circle cx="137.70" cy="340.50" r="3.05" fill="#5a2a7e" stroke="#111" stroke-width="1.0"/>
<circle cx="146.50" cy="420.20" r="3.05" fill="#5a2a7e" stroke="#111" stroke-width="1.0"/>
<circle cx="155.30" cy="419.00" r="3.05" fill="#5a2a7e" stroke="#111" stroke-width="1.0"/>
<circle cx="164.10" cy="419.70" r="3.05" fill="#5a2a7e" stroke="#111" stroke-width="1.0"/>
<text id="ltD" class="nl" x="0" y="0" font-size="11.80" transform="translate(214.60,249.40) scale(1.040,1)">D</text>
<rect x="292.40" y="280.20" width="3.80" height="9.40" fill="#a8002c"/>
<text x="299.70" y="287.80" font-size="7.8" textLength="56.30" lengthAdjust="spacingAndGlyphs">ACC WT - Control</text>
<rect x="292.40" y="293.20" width="3.80" height="9.40" fill="#2f4e80"/>
<text x="299.70" y="300.80" font-size="7.8" textLength="57.30" lengthAdjust="spacingAndGlyphs">ACC DKI - Control</text>
<rect x="375.40" y="280.20" width="3.80" height="9.40" fill="#6b9f46"/>
<text x="383.80" y="287.80" font-size="7.8" textLength="55.00" lengthAdjust="spacingAndGlyphs">ACC WT + coll 25</text>
<rect x="375.40" y="293.20" width="3.80" height="9.40" fill="#552763"/>
<text x="383.80" y="300.80" font-size="7.8" textLength="56.00" lengthAdjust="spacingAndGlyphs">ACC DKI + coll 25</text>
<text x="445.00" y="287.80" font-size="7.8" textLength="15.40" lengthAdjust="spacingAndGlyphs">g/ml</text>
<text x="450.50" y="287.80" font-size="7.8">&#956;</text>
<text x="445.00" y="300.80" font-size="7.8" textLength="15.40" lengthAdjust="spacingAndGlyphs">g/ml</text>
<text x="450.50" y="300.80" font-size="7.8">&#956;</text>
<line x1="245.10" y1="305.90" x2="245.10" y2="432.30" stroke="#1a1a1a" stroke-width="1.35"/>
<line x1="244.50" y1="431.70" x2="512.00" y2="431.70" stroke="#1a1a1a" stroke-width="1.35"/>
<line x1="242.00" y1="309.10" x2="245.10" y2="309.10" stroke="#1a1a1a" stroke-width="1.1"/>
<text x="238.80" y="311.95" font-size="8" text-anchor="end" class="tk">40</text>
<line x1="242.00" y1="339.90" x2="245.10" y2="339.90" stroke="#1a1a1a" stroke-width="1.1"/>
<text x="238.80" y="342.75" font-size="8" text-anchor="end" class="tk">30</text>
<line x1="242.00" y1="370.60" x2="245.10" y2="370.60" stroke="#1a1a1a" stroke-width="1.1"/>
<text x="238.80" y="373.45" font-size="8" text-anchor="end" class="tk">20</text>
<line x1="242.00" y1="401.30" x2="245.10" y2="401.30" stroke="#1a1a1a" stroke-width="1.1"/>
<text x="238.80" y="404.15" font-size="8" text-anchor="end" class="tk">10</text>
<line x1="242.00" y1="432.10" x2="245.10" y2="432.10" stroke="#1a1a1a" stroke-width="1.1"/>
<text x="238.80" y="434.95" font-size="8" text-anchor="end" class="tk">0</text>
<g transform="translate(223.00,432.90) rotate(-90)">
<text x="-0.40" y="0" font-size="9.8" textLength="18.28" lengthAdjust="spacingAndGlyphs">OCR</text>
<text x="19.87" y="0" font-size="9.8" textLength="56.15" lengthAdjust="spacingAndGlyphs">(pmoles/min</text>
<text x="76.12" y="0" font-size="9.8" textLength="5.56" lengthAdjust="spacingAndGlyphs">&#956;</text>
<text x="83.67" y="0" font-size="9.8" textLength="43.33" lengthAdjust="spacingAndGlyphs">g protein)</text>
<text x="77.55" y="0" font-size="9.8">/</text>
</g>
<rect x="246.25" y="370.85" width="7.00" height="60.85" fill="#a8002c" stroke="#a8002c" stroke-width="0.5"/>
<line x1="249.75" y1="370.60" x2="249.75" y2="365.60" stroke="#222" stroke-width="1.0"/>
<line x1="247.75" y1="365.60" x2="251.75" y2="365.60" stroke="#222" stroke-width="1.2"/>
<rect x="254.25" y="380.35" width="6.60" height="51.35" fill="#2f4e80" stroke="#284887" stroke-width="0.5"/>
<line x1="257.55" y1="380.10" x2="257.55" y2="375.20" stroke="#222" stroke-width="1.0"/>
<line x1="255.55" y1="375.20" x2="259.55" y2="375.20" stroke="#222" stroke-width="1.2"/>
<rect x="274.15" y="430.15" width="6.80" height="1.55" fill="#a8002c" stroke="#a8002c" stroke-width="0.5"/>
<line x1="277.55" y1="429.90" x2="277.55" y2="428.50" stroke="#222" stroke-width="1.0"/>
<line x1="275.55" y1="428.50" x2="279.55" y2="428.50" stroke="#222" stroke-width="1.2"/>
<rect x="282.00" y="411.45" width="6.80" height="20.25" fill="#6b9f46" stroke="#79bd4c" stroke-width="0.5"/>
<line x1="285.40" y1="411.20" x2="285.40" y2="409.60" stroke="#222" stroke-width="1.0"/>
<line x1="283.40" y1="409.60" x2="287.40" y2="409.60" stroke="#222" stroke-width="1.2"/>
<rect x="289.85" y="429.45" width="6.80" height="2.25" fill="#2f4e80" stroke="#284887" stroke-width="0.5"/>
<line x1="293.25" y1="429.20" x2="293.25" y2="426.90" stroke="#222" stroke-width="1.0"/>
<line x1="291.25" y1="426.90" x2="295.25" y2="426.90" stroke="#222" stroke-width="1.2"/>
<rect x="297.70" y="411.05" width="6.80" height="20.65" fill="#552763" stroke="#4b1c5a" stroke-width="0.5"/>
<line x1="301.10" y1="410.80" x2="301.10" y2="405.00" stroke="#222" stroke-width="1.0"/>
<line x1="299.10" y1="405.00" x2="303.10" y2="405.00" stroke="#222" stroke-width="1.2"/>
<rect x="314.79" y="394.15" width="6.80" height="37.55" fill="#a8002c" stroke="#a8002c" stroke-width="0.5"/>
<line x1="318.19" y1="393.90" x2="318.19" y2="384.20" stroke="#222" stroke-width="1.0"/>
<line x1="316.19" y1="384.20" x2="320.19" y2="384.20" stroke="#222" stroke-width="1.2"/>
<rect x="322.64" y="374.75" width="6.80" height="56.95" fill="#6b9f46" stroke="#79bd4c" stroke-width="0.5"/>
<line x1="326.04" y1="374.50" x2="326.04" y2="370.40" stroke="#222" stroke-width="1.0"/>
<line x1="324.04" y1="370.40" x2="328.04" y2="370.40" stroke="#222" stroke-width="1.2"/>
<rect x="330.49" y="394.85" width="6.80" height="36.85" fill="#2f4e80" stroke="#284887" stroke-width="0.5"/>
<line x1="333.89" y1="394.60" x2="333.89" y2="386.50" stroke="#222" stroke-width="1.0"/>
<line x1="331.89" y1="386.50" x2="335.89" y2="386.50" stroke="#222" stroke-width="1.2"/>
<rect x="338.34" y="384.75" width="6.80" height="46.95" fill="#552763" stroke="#4b1c5a" stroke-width="0.5"/>
<line x1="341.74" y1="384.50" x2="341.74" y2="377.50" stroke="#222" stroke-width="1.0"/>
<line x1="339.74" y1="377.50" x2="343.74" y2="377.50" stroke="#222" stroke-width="1.2"/>
<rect x="355.43" y="375.25" width="6.80" height="56.45" fill="#a8002c" stroke="#a8002c" stroke-width="0.5"/>
<line x1="358.83" y1="375.00" x2="358.83" y2="357.70" stroke="#222" stroke-width="1.0"/>
<line x1="356.83" y1="357.70" x2="360.83" y2="357.70" stroke="#222" stroke-width="1.2"/>
<rect x="363.28" y="351.45" width="6.80" height="80.25" fill="#6b9f46" stroke="#79bd4c" stroke-width="0.5"/>
<line x1="366.68" y1="351.20" x2="366.68" y2="337.40" stroke="#222" stroke-width="1.0"/>
<line x1="364.68" y1="337.40" x2="368.68" y2="337.40" stroke="#222" stroke-width="1.2"/>
<rect x="371.13" y="370.15" width="6.80" height="61.55" fill="#2f4e80" stroke="#284887" stroke-width="0.5"/>
<line x1="374.53" y1="369.90" x2="374.53" y2="355.40" stroke="#222" stroke-width="1.0"/>
<line x1="372.53" y1="355.40" x2="376.53" y2="355.40" stroke="#222" stroke-width="1.2"/>
<rect x="378.98" y="365.55" width="6.80" height="66.15" fill="#552763" stroke="#4b1c5a" stroke-width="0.5"/>
<line x1="382.38" y1="365.30" x2="382.38" y2="353.80" stroke="#222" stroke-width="1.0"/>
<line x1="380.38" y1="353.80" x2="384.38" y2="353.80" stroke="#222" stroke-width="1.2"/>
<rect x="396.07" y="421.00" width="6.80" height="10.70" fill="#a8002c" stroke="#a8002c" stroke-width="0.5"/>
<line x1="399.47" y1="420.75" x2="399.47" y2="414.50" stroke="#222" stroke-width="1.0"/>
<line x1="397.47" y1="414.50" x2="401.47" y2="414.50" stroke="#222" stroke-width="1.2"/>
<rect x="403.92" y="402.00" width="6.80" height="29.70" fill="#6b9f46" stroke="#79bd4c" stroke-width="0.5"/>
<line x1="407.32" y1="401.75" x2="407.32" y2="390.75" stroke="#222" stroke-width="1.0"/>
<line x1="405.32" y1="390.75" x2="409.32" y2="390.75" stroke="#222" stroke-width="1.2"/>
<rect x="411.77" y="414.75" width="6.80" height="16.95" fill="#2f4e80" stroke="#284887" stroke-width="0.5"/>
<line x1="415.17" y1="414.50" x2="415.17" y2="405.75" stroke="#222" stroke-width="1.0"/>
<line x1="413.17" y1="405.75" x2="417.17" y2="405.75" stroke="#222" stroke-width="1.2"/>
<rect x="419.62" y="404.50" width="6.80" height="27.20" fill="#552763" stroke="#4b1c5a" stroke-width="0.5"/>
<line x1="423.02" y1="404.25" x2="423.02" y2="396.25" stroke="#222" stroke-width="1.0"/>
<line x1="421.02" y1="396.25" x2="425.02" y2="396.25" stroke="#222" stroke-width="1.2"/>
<rect x="436.71" y="420.25" width="6.80" height="11.45" fill="#a8002c" stroke="#a8002c" stroke-width="0.5"/>
<line x1="440.11" y1="420.00" x2="440.11" y2="418.00" stroke="#222" stroke-width="1.0"/>
<line x1="438.11" y1="418.00" x2="442.11" y2="418.00" stroke="#222" stroke-width="1.2"/>
<rect x="444.56" y="421.25" width="6.80" height="10.45" fill="#6b9f46" stroke="#79bd4c" stroke-width="0.5"/>
<line x1="447.96" y1="421.00" x2="447.96" y2="417.00" stroke="#222" stroke-width="1.0"/>
<line x1="445.96" y1="417.00" x2="449.96" y2="417.00" stroke="#222" stroke-width="1.2"/>
<rect x="452.41" y="419.50" width="6.80" height="12.20" fill="#2f4e80" stroke="#284887" stroke-width="0.5"/>
<line x1="455.81" y1="419.25" x2="455.81" y2="417.25" stroke="#222" stroke-width="1.0"/>
<line x1="453.81" y1="417.25" x2="457.81" y2="417.25" stroke="#222" stroke-width="1.2"/>
<rect x="460.26" y="419.25" width="6.80" height="12.45" fill="#552763" stroke="#4b1c5a" stroke-width="0.5"/>
<line x1="463.66" y1="419.00" x2="463.66" y2="415.50" stroke="#222" stroke-width="1.0"/>
<line x1="461.66" y1="415.50" x2="465.66" y2="415.50" stroke="#222" stroke-width="1.2"/>
<rect x="477.35" y="422.75" width="6.80" height="8.95" fill="#a8002c" stroke="#a8002c" stroke-width="0.5"/>
<line x1="480.75" y1="422.50" x2="480.75" y2="420.00" stroke="#222" stroke-width="1.0"/>
<line x1="478.75" y1="420.00" x2="482.75" y2="420.00" stroke="#222" stroke-width="1.2"/>
<rect x="485.20" y="418.25" width="6.80" height="13.45" fill="#6b9f46" stroke="#79bd4c" stroke-width="0.5"/>
<line x1="488.60" y1="418.00" x2="488.60" y2="416.00" stroke="#222" stroke-width="1.0"/>
<line x1="486.60" y1="416.00" x2="490.60" y2="416.00" stroke="#222" stroke-width="1.2"/>
<rect x="493.05" y="422.00" width="6.80" height="9.70" fill="#2f4e80" stroke="#284887" stroke-width="0.5"/>
<line x1="496.45" y1="421.75" x2="496.45" y2="419.25" stroke="#222" stroke-width="1.0"/>
<line x1="494.45" y1="419.25" x2="498.45" y2="419.25" stroke="#222" stroke-width="1.2"/>
<rect x="500.90" y="419.50" width="6.80" height="12.20" fill="#552763" stroke="#4b1c5a" stroke-width="0.5"/>
<line x1="504.30" y1="419.25" x2="504.30" y2="416.50" stroke="#222" stroke-width="1.0"/>
<line x1="502.30" y1="416.50" x2="506.30" y2="416.50" stroke="#222" stroke-width="1.2"/>
<circle cx="285.50" cy="402.70" r="1.15" fill="#231f20"/>
<circle cx="301.20" cy="400.40" r="1.15" fill="#231f20"/>
<text id="clD0" x="0" y="0" font-size="8" text-anchor="middle" textLength="17.64" lengthAdjust="spacingAndGlyphs" transform="translate(252.20,448.30) rotate(-45)">Basal</text>
<text id="clD1" x="0" y="0" font-size="8" text-anchor="middle" textLength="35.54" lengthAdjust="spacingAndGlyphs" transform="translate(277.60,453.50) rotate(-45)">Collagen-</text>
<text id="clD2" x="0" y="0" font-size="8" text-anchor="middle" textLength="27.17" lengthAdjust="spacingAndGlyphs" transform="translate(285.30,460.90) rotate(-45)">induced</text>
<text id="clD3" x="0" y="0" font-size="8" text-anchor="middle" textLength="15.59" lengthAdjust="spacingAndGlyphs" transform="translate(325.70,445.10) rotate(-45)">ATP-</text>
<text id="clD4" x="0" y="0" font-size="8" text-anchor="middle" textLength="20.00" lengthAdjust="spacingAndGlyphs" transform="translate(333.30,453.80) rotate(-45)">linked</text>
<text id="clD5" x="0" y="0" font-size="8" text-anchor="middle" textLength="30.29" lengthAdjust="spacingAndGlyphs" transform="translate(365.20,452.60) rotate(-45)">Maximal</text>
<text id="clD6" x="0" y="0" font-size="8" text-anchor="middle" textLength="27.02" lengthAdjust="spacingAndGlyphs" transform="translate(404.10,449.70) rotate(-45)">Reserve</text>
<text id="clD7" x="0" y="0" font-size="8" text-anchor="middle" textLength="29.86" lengthAdjust="spacingAndGlyphs" transform="translate(411.20,457.00) rotate(-45)">capacity</text>
<text id="clD8" x="0" y="0" font-size="8" text-anchor="middle" textLength="13.54" lengthAdjust="spacingAndGlyphs" transform="translate(437.80,453.10) rotate(-45)">Non</text>
<text id="clD9" x="0" y="0" font-size="8" text-anchor="middle" textLength="50.07" lengthAdjust="spacingAndGlyphs" transform="translate(444.80,459.80) rotate(-45)">mitochondrial</text>
<text id="clD10" x="0" y="0" font-size="8" text-anchor="middle" textLength="23.12" lengthAdjust="spacingAndGlyphs" transform="translate(486.50,448.00) rotate(-45)">Proton</text>
<text id="clD11" x="0" y="0" font-size="8" text-anchor="middle" textLength="11.85" lengthAdjust="spacingAndGlyphs" transform="translate(494.30,456.00) rotate(-45)">leak</text>
<text id="ltE" class="nl" x="0" y="0" font-size="11.80" transform="translate(9.20,489.20) scale(0.790,1)">E</text>
<line x1="14.60" y1="499.70" x2="27.20" y2="499.70" stroke="#111" stroke-width="1.0"/>
<circle cx="20.90" cy="499.70" r="3.05" fill="#c4002f" stroke="#111" stroke-width="1.0"/>
<text x="30.80" y="502.50" font-size="7.8" textLength="57.20" lengthAdjust="spacingAndGlyphs">ACC WT - Control</text>
<line x1="14.60" y1="511.30" x2="27.20" y2="511.30" stroke="#111" stroke-width="1.0"/>
<circle cx="20.90" cy="511.30" r="3.05" fill="#3a5da5" stroke="#111" stroke-width="1.0"/>
<text x="30.80" y="514.10" font-size="7.8" textLength="58.20" lengthAdjust="spacingAndGlyphs">ACC DKI - Control</text>
<line x1="106.10" y1="499.50" x2="118.70" y2="499.50" stroke="#111" stroke-width="1.0"/>
<circle cx="112.40" cy="499.50" r="3.05" fill="#6dbb45" stroke="#111" stroke-width="1.0"/>
<text x="121.90" y="502.30" font-size="7.8" textLength="64.50" lengthAdjust="spacingAndGlyphs">ACC WT + etomoxir</text>
<line x1="106.10" y1="511.20" x2="118.70" y2="511.20" stroke="#111" stroke-width="1.0"/>
<circle cx="112.40" cy="511.20" r="3.05" fill="#5a2a7e" stroke="#111" stroke-width="1.0"/>
<text x="121.90" y="514.00" font-size="7.8" textLength="65.50" lengthAdjust="spacingAndGlyphs">ACC DKI + etomoxir</text>
<text x="61.50" y="525.50" font-size="7.5" text-anchor="middle">O</text>
<text x="87.60" y="525.50" font-size="7.5" text-anchor="middle">F</text>
<text x="114.60" y="525.50" font-size="7.5" text-anchor="middle" textLength="15.50" lengthAdjust="spacingAndGlyphs">aA/R</text>
<line x1="61.60" y1="531.00" x2="61.60" y2="538.30" stroke="#111" stroke-width="1.1"/>
<path d="M58.85,535.40 L64.35,535.40 L61.60,541.30 Z" fill="#111"/>
<line x1="87.80" y1="531.00" x2="87.80" y2="538.30" stroke="#111" stroke-width="1.1"/>
<path d="M85.05,535.40 L90.55,535.40 L87.80,541.30 Z" fill="#111"/>
<line x1="114.70" y1="531.00" x2="114.70" y2="538.30" stroke="#111" stroke-width="1.1"/>
<path d="M111.95,535.40 L117.45,535.40 L114.70,541.30 Z" fill="#111"/>
<line x1="39.00" y1="530.00" x2="39.00" y2="656.70" stroke="#333333" stroke-width="1.5"/>
<line x1="38.30" y1="656.00" x2="194.00" y2="656.00" stroke="#333333" stroke-width="1.5"/>
<line x1="35.60" y1="533.10" x2="39.00" y2="533.10" stroke="#333333" stroke-width="1.1"/>
<text x="32.40" y="535.95" font-size="8" text-anchor="end" class="tk">30</text>
<line x1="35.60" y1="574.20" x2="39.00" y2="574.20" stroke="#333333" stroke-width="1.1"/>
<text x="32.40" y="577.05" font-size="8" text-anchor="end" class="tk">20</text>
<line x1="35.60" y1="615.10" x2="39.00" y2="615.10" stroke="#333333" stroke-width="1.1"/>
<text x="32.40" y="617.95" font-size="8" text-anchor="end" class="tk">10</text>
<line x1="35.60" y1="656.00" x2="39.00" y2="656.00" stroke="#333333" stroke-width="1.1"/>
<text x="32.40" y="658.85" font-size="8" text-anchor="end" class="tk">0</text>
<line x1="39.20" y1="656.00" x2="39.20" y2="659.50" stroke="#333333" stroke-width="1.1"/>
<text x="39.20" y="670.10" font-size="8.0" text-anchor="middle" class="tk">0</text>
<line x1="69.55" y1="656.00" x2="69.55" y2="659.50" stroke="#333333" stroke-width="1.1"/>
<text x="69.55" y="670.10" font-size="8.0" text-anchor="middle" class="tk">30</text>
<line x1="99.90" y1="656.00" x2="99.90" y2="659.50" stroke="#333333" stroke-width="1.1"/>
<text x="99.90" y="670.10" font-size="8.0" text-anchor="middle" class="tk">60</text>
<line x1="130.25" y1="656.00" x2="130.25" y2="659.50" stroke="#333333" stroke-width="1.1"/>
<text x="130.25" y="670.10" font-size="8.0" text-anchor="middle" class="tk">90</text>
<line x1="160.60" y1="656.00" x2="160.60" y2="659.50" stroke="#333333" stroke-width="1.1"/>
<text x="160.60" y="670.10" font-size="8.0" text-anchor="middle" class="tk">120</text>
<line x1="190.95" y1="656.00" x2="190.95" y2="659.50" stroke="#333333" stroke-width="1.1"/>
<text x="190.95" y="670.10" font-size="8.0" text-anchor="middle" class="tk">150</text>
<text x="116.40" y="684.20" font-size="10" text-anchor="middle" textLength="62.80" lengthAdjust="spacingAndGlyphs">Time (minutes)</text>
<g transform="translate(17.10,656.70) rotate(-90)">
<text x="-0.40" y="0" font-size="9.8" textLength="18.36" lengthAdjust="spacingAndGlyphs">OCR</text>
<text x="19.95" y="0" font-size="9.8" textLength="56.37" lengthAdjust="spacingAndGlyphs">(pmoles/min</text>
<text x="76.42" y="0" font-size="9.8" textLength="5.59" lengthAdjust="spacingAndGlyphs">&#956;</text>
<text x="84.00" y="0" font-size="9.8" textLength="43.50" lengthAdjust="spacingAndGlyphs">g protein)</text>
<text x="77.86" y="0" font-size="9.8">/</text>
</g>
<polyline points="40.90,605.50 49.70,607.50 58.50,602.00 67.30,636.00 76.10,640.00 84.90,643.60 93.70,570.10 102.50,556.50 111.30,553.80 120.10,648.00 128.90,646.00 137.70,646.00" fill="none" stroke="#fff" stroke-width="2.6" stroke-linejoin="round"/>
<polyline points="40.90,605.50 49.70,607.50 58.50,602.00 67.30,636.00 76.10,640.00 84.90,643.60 93.70,570.10 102.50,556.50 111.30,553.80 120.10,648.00 128.90,646.00 137.70,646.00" fill="none" stroke="#111" stroke-width="1.15" stroke-linejoin="round"/>
<polyline points="40.90,607.20 49.70,610.20 58.50,603.10 67.30,631.50 76.10,635.00 84.90,638.00 93.70,610.90 102.50,603.50 111.30,602.50 120.10,648.50 128.90,647.00 137.70,647.00" fill="none" stroke="#fff" stroke-width="2.6" stroke-linejoin="round"/>
<polyline points="40.90,607.20 49.70,610.20 58.50,603.10 67.30,631.50 76.10,635.00 84.90,638.00 93.70,610.90 102.50,603.50 111.30,602.50 120.10,648.50 128.90,647.00 137.70,647.00" fill="none" stroke="#111" stroke-width="1.15" stroke-linejoin="round"/>
<polyline points="40.90,603.50 49.70,604.80 58.50,600.10 67.30,639.50 76.10,641.40 84.90,641.10 93.70,568.40 102.50,548.80 111.30,547.10 120.10,646.30 128.90,642.80 137.70,642.80" fill="none" stroke="#fff" stroke-width="2.6" stroke-linejoin="round"/>
<polyline points="40.90,603.50 49.70,604.80 58.50,600.10 67.30,639.50 76.10,641.40 84.90,641.10 93.70,568.40 102.50,548.80 111.30,547.10 120.10,646.30 128.90,642.80 137.70,642.80" fill="none" stroke="#111" stroke-width="1.15" stroke-linejoin="round"/>
<polyline points="40.90,610.90 49.70,614.00 58.50,609.50 67.30,634.10 76.10,636.80 84.90,637.40 93.70,602.10 102.50,600.50 111.30,602.80 120.10,649.20 128.90,648.10 137.70,648.10" fill="none" stroke="#fff" stroke-width="2.6" stroke-linejoin="round"/>
<polyline points="40.90,610.90 49.70,614.00 58.50,609.50 67.30,634.10 76.10,636.80 84.90,637.40 93.70,602.10 102.50,600.50 111.30,602.80 120.10,649.20 128.90,648.10 137.70,648.10" fill="none" stroke="#111" stroke-width="1.15" stroke-linejoin="round"/>
<circle cx="40.90" cy="605.50" r="3.05" fill="#c4002f" stroke="#111" stroke-width="1.0"/>
<circle cx="49.70" cy="607.50" r="3.05" fill="#c4002f" stroke="#111" stroke-width="1.0"/>
<circle cx="58.50" cy="602.00" r="3.05" fill="#c4002f" stroke="#111" stroke-width="1.0"/>
<circle cx="67.30" cy="636.00" r="3.05" fill="#c4002f" stroke="#111" stroke-width="1.0"/>
<circle cx="76.10" cy="640.00" r="3.05" fill="#c4002f" stroke="#111" stroke-width="1.0"/>
<circle cx="84.90" cy="643.60" r="3.05" fill="#c4002f" stroke="#111" stroke-width="1.0"/>
<circle cx="93.70" cy="570.10" r="3.05" fill="#c4002f" stroke="#111" stroke-width="1.0"/>
<circle cx="102.50" cy="556.50" r="3.05" fill="#c4002f" stroke="#111" stroke-width="1.0"/>
<circle cx="111.30" cy="553.80" r="3.05" fill="#c4002f" stroke="#111" stroke-width="1.0"/>
<circle cx="120.10" cy="648.00" r="3.05" fill="#c4002f" stroke="#111" stroke-width="1.0"/>
<circle cx="128.90" cy="646.00" r="3.05" fill="#c4002f" stroke="#111" stroke-width="1.0"/>
<circle cx="137.70" cy="646.00" r="3.05" fill="#c4002f" stroke="#111" stroke-width="1.0"/>
<circle cx="40.90" cy="607.20" r="3.05" fill="#5a2a7e" stroke="#111" stroke-width="1.0"/>
<circle cx="49.70" cy="610.20" r="3.05" fill="#5a2a7e" stroke="#111" stroke-width="1.0"/>
<circle cx="58.50" cy="603.10" r="3.05" fill="#5a2a7e" stroke="#111" stroke-width="1.0"/>
<circle cx="67.30" cy="631.50" r="3.05" fill="#5a2a7e" stroke="#111" stroke-width="1.0"/>
<circle cx="76.10" cy="635.00" r="3.05" fill="#5a2a7e" stroke="#111" stroke-width="1.0"/>
<circle cx="84.90" cy="638.00" r="3.05" fill="#5a2a7e" stroke="#111" stroke-width="1.0"/>
<circle cx="93.70" cy="610.90" r="3.05" fill="#5a2a7e" stroke="#111" stroke-width="1.0"/>
<circle cx="102.50" cy="603.50" r="3.05" fill="#5a2a7e" stroke="#111" stroke-width="1.0"/>
<circle cx="111.30" cy="602.50" r="3.05" fill="#5a2a7e" stroke="#111" stroke-width="1.0"/>
<circle cx="120.10" cy="648.50" r="3.05" fill="#5a2a7e" stroke="#111" stroke-width="1.0"/>
<circle cx="128.90" cy="647.00" r="3.05" fill="#5a2a7e" stroke="#111" stroke-width="1.0"/>
<circle cx="137.70" cy="647.00" r="3.05" fill="#5a2a7e" stroke="#111" stroke-width="1.0"/>
<circle cx="40.90" cy="603.50" r="3.05" fill="#3a5da5" stroke="#111" stroke-width="1.0"/>
<circle cx="49.70" cy="604.80" r="3.05" fill="#3a5da5" stroke="#111" stroke-width="1.0"/>
<circle cx="58.50" cy="600.10" r="3.05" fill="#3a5da5" stroke="#111" stroke-width="1.0"/>
<circle cx="67.30" cy="639.50" r="3.05" fill="#3a5da5" stroke="#111" stroke-width="1.0"/>
<circle cx="76.10" cy="641.40" r="3.05" fill="#3a5da5" stroke="#111" stroke-width="1.0"/>
<circle cx="84.90" cy="641.10" r="3.05" fill="#3a5da5" stroke="#111" stroke-width="1.0"/>
<circle cx="93.70" cy="568.40" r="3.05" fill="#3a5da5" stroke="#111" stroke-width="1.0"/>
<circle cx="102.50" cy="548.80" r="3.05" fill="#3a5da5" stroke="#111" stroke-width="1.0"/>
<circle cx="111.30" cy="547.10" r="3.05" fill="#3a5da5" stroke="#111" stroke-width="1.0"/>
<circle cx="120.10" cy="646.30" r="3.05" fill="#3a5da5" stroke="#111" stroke-width="1.0"/>
<circle cx="128.90" cy="642.80" r="3.05" fill="#3a5da5" stroke="#111" stroke-width="1.0"/>
<circle cx="137.70" cy="642.80" r="3.05" fill="#3a5da5" stroke="#111" stroke-width="1.0"/>
<circle cx="40.90" cy="610.90" r="3.05" fill="#6dbb45" stroke="#111" stroke-width="1.0"/>
<circle cx="49.70" cy="614.00" r="3.05" fill="#6dbb45" stroke="#111" stroke-width="1.0"/>
<circle cx="58.50" cy="609.50" r="3.05" fill="#6dbb45" stroke="#111" stroke-width="1.0"/>
<circle cx="67.30" cy="634.10" r="3.05" fill="#6dbb45" stroke="#111" stroke-width="1.0"/>
<circle cx="76.10" cy="636.80" r="3.05" fill="#6dbb45" stroke="#111" stroke-width="1.0"/>
<circle cx="84.90" cy="637.40" r="3.05" fill="#6dbb45" stroke="#111" stroke-width="1.0"/>
<circle cx="93.70" cy="602.10" r="3.05" fill="#6dbb45" stroke="#111" stroke-width="1.0"/>
<circle cx="102.50" cy="600.50" r="3.05" fill="#6dbb45" stroke="#111" stroke-width="1.0"/>
<circle cx="111.30" cy="602.80" r="3.05" fill="#6dbb45" stroke="#111" stroke-width="1.0"/>
<circle cx="120.10" cy="649.20" r="3.05" fill="#6dbb45" stroke="#111" stroke-width="1.0"/>
<circle cx="128.90" cy="648.10" r="3.05" fill="#6dbb45" stroke="#111" stroke-width="1.0"/>
<circle cx="137.70" cy="648.10" r="3.05" fill="#6dbb45" stroke="#111" stroke-width="1.0"/>
<text id="ltF" class="nl" x="0" y="0" font-size="11.80" transform="translate(214.50,489.20) scale(0.905,1)">F</text>
<rect x="288.40" y="504.00" width="3.80" height="9.40" fill="#a8002c"/>
<text x="295.60" y="511.60" font-size="7.8" textLength="57.60" lengthAdjust="spacingAndGlyphs">ACC WT - Control</text>
<rect x="288.40" y="517.00" width="3.80" height="9.40" fill="#2f4e80"/>
<text x="295.60" y="524.60" font-size="7.8" textLength="58.60" lengthAdjust="spacingAndGlyphs">ACC DKI - Control</text>
<rect x="370.60" y="504.00" width="3.80" height="9.40" fill="#6b9f46"/>
<text x="378.00" y="511.60" font-size="7.8" textLength="64.00" lengthAdjust="spacingAndGlyphs">ACC WT + etomoxir</text>
<rect x="370.60" y="517.00" width="3.80" height="9.40" fill="#552763"/>
<text x="378.00" y="524.60" font-size="7.8" textLength="65.00" lengthAdjust="spacingAndGlyphs">ACC DKI + etomoxir</text>
<line x1="245.10" y1="530.00" x2="245.10" y2="658.80" stroke="#1a1a1a" stroke-width="1.35"/>
<line x1="244.50" y1="625.20" x2="489.50" y2="625.20" stroke="#1a1a1a" stroke-width="1.35"/>
<line x1="242.00" y1="533.20" x2="245.10" y2="533.20" stroke="#1a1a1a" stroke-width="1.1"/>
<text x="238.80" y="536.05" font-size="8" text-anchor="end" class="tk">30</text>
<line x1="242.00" y1="563.90" x2="245.10" y2="563.90" stroke="#1a1a1a" stroke-width="1.1"/>
<text x="238.80" y="566.75" font-size="8" text-anchor="end" class="tk">20</text>
<line x1="242.00" y1="594.50" x2="245.10" y2="594.50" stroke="#1a1a1a" stroke-width="1.1"/>
<text x="238.80" y="597.35" font-size="8" text-anchor="end" class="tk">10</text>
<line x1="242.00" y1="625.10" x2="245.10" y2="625.10" stroke="#1a1a1a" stroke-width="1.1"/>
<text x="238.80" y="627.95" font-size="8" text-anchor="end" class="tk">0</text>
<line x1="242.00" y1="655.80" x2="245.10" y2="655.80" stroke="#1a1a1a" stroke-width="1.1"/>
<text x="238.80" y="658.65" font-size="8" text-anchor="end" class="tk">-10</text>
<g transform="translate(220.60,658.50) rotate(-90)">
<text x="-0.40" y="0" font-size="9.8" textLength="18.33" lengthAdjust="spacingAndGlyphs">OCR</text>
<text x="19.92" y="0" font-size="9.8" textLength="56.28" lengthAdjust="spacingAndGlyphs">(pmoles/min</text>
<text x="76.30" y="0" font-size="9.8" textLength="5.58" lengthAdjust="spacingAndGlyphs">&#956;</text>
<text x="83.87" y="0" font-size="9.8" textLength="43.43" lengthAdjust="spacingAndGlyphs">g protein)</text>
<text x="77.73" y="0" font-size="9.8">/</text>
</g>
<rect x="246.55" y="586.25" width="7.60" height="38.95" fill="#a8002c" stroke="#a8002c" stroke-width="0.5"/>
<line x1="250.35" y1="586.00" x2="250.35" y2="583.10" stroke="#222" stroke-width="1.0"/>
<line x1="248.35" y1="583.10" x2="252.35" y2="583.10" stroke="#222" stroke-width="1.2"/>
<rect x="255.20" y="590.45" width="7.60" height="34.75" fill="#6b9f46" stroke="#79bd4c" stroke-width="0.5"/>
<line x1="259.00" y1="590.20" x2="259.00" y2="588.30" stroke="#222" stroke-width="1.0"/>
<line x1="257.00" y1="588.30" x2="261.00" y2="588.30" stroke="#222" stroke-width="1.2"/>
<rect x="263.85" y="583.35" width="7.60" height="41.85" fill="#2f4e80" stroke="#284887" stroke-width="0.5"/>
<line x1="267.65" y1="583.10" x2="267.65" y2="581.70" stroke="#222" stroke-width="1.0"/>
<line x1="265.65" y1="581.70" x2="269.65" y2="581.70" stroke="#222" stroke-width="1.2"/>
<rect x="272.50" y="593.35" width="7.60" height="31.85" fill="#552763" stroke="#4b1c5a" stroke-width="0.5"/>
<line x1="276.30" y1="593.10" x2="276.30" y2="588.30" stroke="#222" stroke-width="1.0"/>
<line x1="274.30" y1="588.30" x2="278.30" y2="588.30" stroke="#222" stroke-width="1.2"/>
<rect x="288.03" y="596.75" width="7.60" height="28.45" fill="#a8002c" stroke="#a8002c" stroke-width="0.5"/>
<line x1="291.83" y1="596.50" x2="291.83" y2="594.20" stroke="#222" stroke-width="1.0"/>
<line x1="289.83" y1="594.20" x2="293.83" y2="594.20" stroke="#222" stroke-width="1.2"/>
<rect x="296.68" y="604.85" width="7.60" height="20.35" fill="#6b9f46" stroke="#79bd4c" stroke-width="0.5"/>
<line x1="300.48" y1="604.60" x2="300.48" y2="603.30" stroke="#222" stroke-width="1.0"/>
<line x1="298.48" y1="603.30" x2="302.48" y2="603.30" stroke="#222" stroke-width="1.2"/>
<rect x="305.33" y="594.25" width="7.60" height="30.95" fill="#2f4e80" stroke="#284887" stroke-width="0.5"/>
<line x1="309.13" y1="594.00" x2="309.13" y2="593.70" stroke="#222" stroke-width="1.0"/>
<line x1="307.13" y1="593.70" x2="311.13" y2="593.70" stroke="#222" stroke-width="1.2"/>
<rect x="313.98" y="603.95" width="7.60" height="21.25" fill="#552763" stroke="#4b1c5a" stroke-width="0.5"/>
<line x1="317.78" y1="603.70" x2="317.78" y2="601.00" stroke="#222" stroke-width="1.0"/>
<line x1="315.78" y1="601.00" x2="319.78" y2="601.00" stroke="#222" stroke-width="1.2"/>
<rect x="329.51" y="557.15" width="7.60" height="68.05" fill="#a8002c" stroke="#a8002c" stroke-width="0.5"/>
<line x1="333.31" y1="556.90" x2="333.31" y2="546.30" stroke="#222" stroke-width="1.0"/>
<line x1="331.31" y1="546.30" x2="335.31" y2="546.30" stroke="#222" stroke-width="1.2"/>
<rect x="338.16" y="593.15" width="7.60" height="32.05" fill="#6b9f46" stroke="#79bd4c" stroke-width="0.5"/>
<line x1="341.96" y1="592.90" x2="341.96" y2="591.20" stroke="#222" stroke-width="1.0"/>
<line x1="339.96" y1="591.20" x2="343.96" y2="591.20" stroke="#222" stroke-width="1.2"/>
<rect x="346.81" y="568.15" width="7.60" height="57.05" fill="#2f4e80" stroke="#284887" stroke-width="0.5"/>
<line x1="350.61" y1="567.90" x2="350.61" y2="559.40" stroke="#222" stroke-width="1.0"/>
<line x1="348.61" y1="559.40" x2="352.61" y2="559.40" stroke="#222" stroke-width="1.2"/>
<rect x="355.46" y="601.45" width="7.60" height="23.75" fill="#552763" stroke="#4b1c5a" stroke-width="0.5"/>
<line x1="359.26" y1="601.20" x2="359.26" y2="597.70" stroke="#222" stroke-width="1.0"/>
<line x1="357.26" y1="597.70" x2="361.26" y2="597.70" stroke="#222" stroke-width="1.2"/>
<rect x="370.99" y="587.35" width="7.60" height="37.85" fill="#a8002c" stroke="#a8002c" stroke-width="0.5"/>
<line x1="374.79" y1="587.10" x2="374.79" y2="578.10" stroke="#222" stroke-width="1.0"/>
<line x1="372.79" y1="578.10" x2="376.79" y2="578.10" stroke="#222" stroke-width="1.2"/>
<rect x="379.64" y="620.65" width="7.60" height="4.55" fill="#6b9f46" stroke="#79bd4c" stroke-width="0.5"/>
<line x1="383.44" y1="620.40" x2="383.44" y2="619.80" stroke="#222" stroke-width="1.0"/>
<line x1="381.44" y1="619.80" x2="385.44" y2="619.80" stroke="#222" stroke-width="1.2"/>
<rect x="388.29" y="601.95" width="7.60" height="23.25" fill="#2f4e80" stroke="#284887" stroke-width="0.5"/>
<line x1="392.09" y1="601.70" x2="392.09" y2="592.90" stroke="#222" stroke-width="1.0"/>
<line x1="390.09" y1="592.90" x2="394.09" y2="592.90" stroke="#222" stroke-width="1.2"/>
<rect x="396.94" y="625.20" width="7.60" height="1.20" fill="#552763" stroke="#4b1c5a" stroke-width="0.5"/>
<rect x="412.47" y="616.25" width="7.60" height="8.95" fill="#a8002c" stroke="#a8002c" stroke-width="0.5"/>
<line x1="416.27" y1="616.00" x2="416.27" y2="614.50" stroke="#222" stroke-width="1.0"/>
<line x1="414.27" y1="614.50" x2="418.27" y2="614.50" stroke="#222" stroke-width="1.2"/>
<rect x="421.12" y="618.75" width="7.60" height="6.45" fill="#6b9f46" stroke="#79bd4c" stroke-width="0.5"/>
<line x1="424.92" y1="618.50" x2="424.92" y2="617.70" stroke="#222" stroke-width="1.0"/>
<line x1="422.92" y1="617.70" x2="426.92" y2="617.70" stroke="#222" stroke-width="1.2"/>
<rect x="429.77" y="617.65" width="7.60" height="7.55" fill="#2f4e80" stroke="#284887" stroke-width="0.5"/>
<line x1="433.57" y1="617.40" x2="433.57" y2="616.40" stroke="#222" stroke-width="1.0"/>
<line x1="431.57" y1="616.40" x2="435.57" y2="616.40" stroke="#222" stroke-width="1.2"/>
<rect x="438.42" y="618.35" width="7.60" height="6.85" fill="#552763" stroke="#4b1c5a" stroke-width="0.5"/>
<line x1="442.22" y1="618.10" x2="442.22" y2="616.40" stroke="#222" stroke-width="1.0"/>
<line x1="440.22" y1="616.40" x2="444.22" y2="616.40" stroke="#222" stroke-width="1.2"/>
<rect x="453.95" y="624.05" width="7.60" height="1.15" fill="#a8002c" stroke="#a8002c" stroke-width="0.5"/>
<line x1="457.75" y1="623.80" x2="457.75" y2="622.90" stroke="#222" stroke-width="1.0"/>
<line x1="455.75" y1="622.90" x2="459.75" y2="622.90" stroke="#222" stroke-width="1.2"/>
<rect x="462.60" y="618.35" width="7.60" height="6.85" fill="#6b9f46" stroke="#79bd4c" stroke-width="0.5"/>
<line x1="466.40" y1="618.10" x2="466.40" y2="617.00" stroke="#222" stroke-width="1.0"/>
<line x1="464.40" y1="617.00" x2="468.40" y2="617.00" stroke="#222" stroke-width="1.2"/>
<rect x="471.25" y="622.55" width="7.60" height="2.65" fill="#2f4e80" stroke="#284887" stroke-width="0.5"/>
<line x1="475.05" y1="622.30" x2="475.05" y2="621.90" stroke="#222" stroke-width="1.0"/>
<line x1="473.05" y1="621.90" x2="477.05" y2="621.90" stroke="#222" stroke-width="1.2"/>
<rect x="479.90" y="622.55" width="7.60" height="2.65" fill="#552763" stroke="#4b1c5a" stroke-width="0.5"/>
<line x1="483.70" y1="622.30" x2="483.70" y2="620.80" stroke="#222" stroke-width="1.0"/>
<line x1="481.70" y1="620.80" x2="485.70" y2="620.80" stroke="#222" stroke-width="1.2"/>
<line x1="400.50" y1="626.40" x2="400.50" y2="627.30" stroke="#222" stroke-width="1.0"/>
<line x1="398.50" y1="627.30" x2="402.50" y2="627.30" stroke="#222" stroke-width="1.2"/>
<circle cx="301.50" cy="593.10" r="1.15" fill="#231f20"/>
<circle cx="318.50" cy="593.10" r="1.15" fill="#231f20"/>
<circle cx="342.50" cy="580.40" r="1.15" fill="#231f20"/>
<circle cx="359.40" cy="585.40" r="1.15" fill="#231f20"/>
<circle cx="383.50" cy="610.80" r="1.15" fill="#231f20"/>
<circle cx="401.20" cy="616.50" r="1.15" fill="#231f20"/>
<circle cx="466.30" cy="608.60" r="1.15" fill="#231f20"/>
<text x="484.20" y="613.60" font-size="6.6" text-anchor="middle">#</text>
<text id="clF0" x="0" y="0" font-size="8" text-anchor="middle" textLength="18.20" lengthAdjust="spacingAndGlyphs" transform="translate(262.60,641.60) rotate(-45)">Basal</text>
<text id="clF1" x="0" y="0" font-size="8" text-anchor="middle" textLength="15.59" lengthAdjust="spacingAndGlyphs" transform="translate(301.80,638.40) rotate(-45)">ATP-</text>
<text id="clF2" x="0" y="0" font-size="8" text-anchor="middle" textLength="21.13" lengthAdjust="spacingAndGlyphs" transform="translate(308.90,646.60) rotate(-45)">linked</text>
<text id="clF3" x="0" y="0" font-size="8" text-anchor="middle" textLength="29.72" lengthAdjust="spacingAndGlyphs" transform="translate(340.10,645.60) rotate(-45)">Maximal</text>
<text id="clF4" x="0" y="0" font-size="8" text-anchor="middle" textLength="27.58" lengthAdjust="spacingAndGlyphs" transform="translate(379.10,641.60) rotate(-45)">Reserve</text>
<text id="clF5" x="0" y="0" font-size="8" text-anchor="middle" textLength="29.86" lengthAdjust="spacingAndGlyphs" transform="translate(386.40,650.20) rotate(-45)">capacity</text>
<text id="clF6" x="0" y="0" font-size="8" text-anchor="middle" textLength="13.54" lengthAdjust="spacingAndGlyphs" transform="translate(417.10,645.60) rotate(-45)">Non</text>
<text id="clF7" x="0" y="0" font-size="8" text-anchor="middle" textLength="50.07" lengthAdjust="spacingAndGlyphs" transform="translate(424.50,652.30) rotate(-45)">mitochondrial</text>
<text id="clF8" x="0" y="0" font-size="8" text-anchor="middle" textLength="23.68" lengthAdjust="spacingAndGlyphs" transform="translate(465.90,641.70) rotate(-45)">Proton</text>
<text id="clF9" x="0" y="0" font-size="8" text-anchor="middle" textLength="12.41" lengthAdjust="spacingAndGlyphs" transform="translate(473.60,649.00) rotate(-45)">leak</text>
<rect x="0.75" y="0.75" width="518.5" height="692.5" fill="none" stroke="#1e1e1e" stroke-width="1.6"/>
</svg>
</body></html>
